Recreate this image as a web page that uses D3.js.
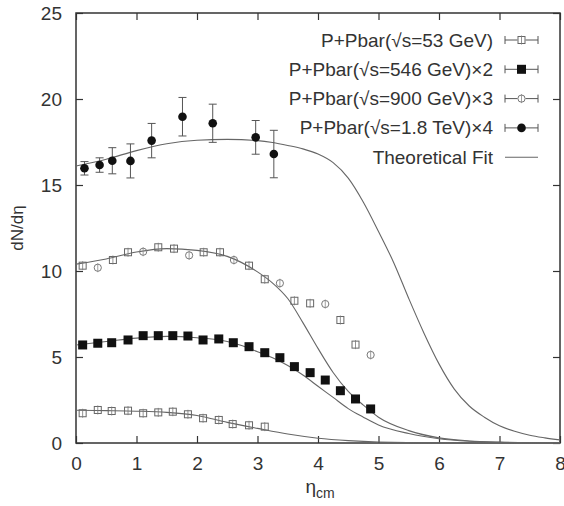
<!DOCTYPE html>
<html lang="en">
<head>
    <meta charset="utf-8">
    <title>dN/deta fit</title>
    <script src="https://d3js.org/d3.v7.min.js"></script>
    <style>
        body { margin: 0; background: #fff; }
        svg text { font-family: "Liberation Sans", Arial, sans-serif; fill: #333; }
    </style>
</head>
<body>
<div id="chart"></div>
<script>
    // data
    var xTicks = [0, 1, 2, 3, 4, 5, 6, 7, 8];
    var yTicks = [0, 5, 10, 15, 20, 25];

    var legendLabels = [
        "P+Pbar(\u221As=53 GeV)",
        "P+Pbar(\u221As=546 GeV)\u00d72",
        "P+Pbar(\u221As=900 GeV)\u00d73",
        "P+Pbar(\u221As=1.8 TeV)\u00d74",
        "Theoretical Fit"
    ];

    var eta53 = [0.11, 0.36, 0.59, 0.86, 1.11, 1.36, 1.60, 1.85, 2.10, 2.36, 2.59, 2.86, 3.12];
    var val53 = [1.73, 1.92, 1.86, 1.88, 1.73, 1.78, 1.82, 1.67, 1.44, 1.34, 1.10, 1.03, 0.95];

    var eta546 = [0.11, 0.36, 0.59, 0.86, 1.11, 1.36, 1.60, 1.85, 2.10, 2.36, 2.60, 2.86, 3.12, 3.37, 3.61, 3.87, 4.12, 4.37, 4.62, 4.87];
    var val546 = [5.70, 5.80, 5.83, 5.99, 6.24, 6.24, 6.24, 6.22, 5.99, 6.05, 5.83, 5.60, 5.25, 4.96, 4.44, 4.09, 3.66, 3.04, 2.56, 1.98];

    var eta900 = [0.11, 0.36, 0.61, 0.86, 1.11, 1.36, 1.62, 1.87, 2.11, 2.38, 2.61, 2.86, 3.12, 3.37, 3.61, 3.87, 4.12, 4.37, 4.62, 4.87];
    var val900 = [10.31, 10.19, 10.64, 11.09, 11.12, 11.38, 11.30, 10.91, 11.09, 11.09, 10.64, 10.31, 9.52, 9.29, 8.27, 8.12, 8.08, 7.15, 5.72, 5.12];

    var eta1800 = [0.14, 0.39, 0.60, 0.90, 1.25, 1.76, 2.26, 2.97, 3.27];
    var val1800 = [15.97, 16.16, 16.41, 16.40, 17.58, 18.97, 18.59, 17.77, 16.80];
    var err1800 = [0.39, 0.42, 0.76, 0.99, 1.00, 1.12, 1.11, 0.98, 1.38];

    // theoretical fit curves
    var fitEta53 = [0, 0.5, 1.0, 1.5, 2.0, 2.5, 3.0, 3.5, 4.0, 4.5, 5.0, 6.0, 8.0];
    var fitVal53 = [1.9, 1.88, 1.85, 1.78, 1.6, 1.2, 0.85, 0.52, 0.28, 0.14, 0.06, 0.01, 0];

    var fitEta546 = [0, 0.5, 1.0, 1.5, 2.0, 2.5, 2.75, 3.0, 3.25, 3.5, 3.75, 4.0, 4.25, 4.5, 4.75, 5.0, 5.5, 6.0, 6.5, 7.0, 8.0];
    var fitVal546 = [5.7, 5.9, 6.1, 6.2, 6.12, 5.9, 5.65, 5.3, 4.95, 4.5, 3.95, 3.3, 2.65, 2.0, 1.5, 1.05, 0.55, 0.25, 0.1, 0.04, 0];

    var fitEta900 = [0, 0.5, 1.0, 1.5, 2.0, 2.5, 3.0, 3.25, 3.5, 3.75, 4.0, 4.25, 4.5, 4.75, 5.0, 5.5, 6.0, 6.5, 7.0, 8.0];
    var fitVal900 = [10.4, 10.7, 11.1, 11.3, 11.2, 10.85, 9.95, 9.3, 8.4, 7.0, 5.5, 4.1, 3.0, 2.2, 1.5, 0.72, 0.3, 0.12, 0.05, 0];

    var fitEta1800 = [0, 0.5, 1.0, 1.5, 2.0, 2.5, 3.0, 3.25, 3.5, 3.75, 4.0, 4.25, 4.5, 4.75, 5.0, 5.25, 5.5, 5.75, 6.0, 6.25, 6.5, 6.75, 7.0, 7.25, 7.5, 7.75, 8.0];
    var fitVal1800 = [16.1, 16.5, 17.0, 17.4, 17.6, 17.65, 17.58, 17.47, 17.3, 17.1, 16.8, 16.3, 15.4, 14.0, 12.3, 10.5, 8.4, 6.4, 4.6, 3.15, 2.15, 1.5, 1.0, 0.68, 0.45, 0.3, 0.18];

    var W = 564, H = 506;
    var mLeft = 76, mRight = 560, mTop = 13, mBottom = 443;

    var x = d3.scaleLinear().domain([0, 8]).range([mLeft, mRight]);
    var y = d3.scaleLinear().domain([0, 25]).range([mBottom, mTop]);

    var svg = d3.select("#chart").append("svg")
        .attr("width", W)
        .attr("height", H);

    var ink = "#333";

    // axes: ticks inward on all four sides
    svg.append("g")
        .attr("transform", "translate(0," + mBottom + ")")
        .call(d3.axisBottom(x).tickValues(xTicks).tickSize(-7).tickPadding(14).tickFormat(d3.format("d")))
        .call(function(g) { g.select(".domain").remove(); });
    svg.append("g")
        .attr("transform", "translate(0," + mTop + ")")
        .call(d3.axisTop(x).tickValues(xTicks).tickSize(-7).tickFormat(""))
        .call(function(g) { g.select(".domain").remove(); });
    svg.append("g")
        .attr("transform", "translate(" + mLeft + ",0)")
        .call(d3.axisLeft(y).tickValues(yTicks).tickSize(-7).tickPadding(14).tickFormat(d3.format("d")))
        .call(function(g) { g.select(".domain").remove(); });
    svg.append("g")
        .attr("transform", "translate(" + mRight + ",0)")
        .call(d3.axisRight(y).tickValues(yTicks).tickSize(-7).tickFormat(""))
        .call(function(g) { g.select(".domain").remove(); });

    svg.selectAll(".tick line").attr("stroke", ink).attr("stroke-width", 1.2);
    svg.selectAll(".tick text").attr("fill", ink).style("font-size", "19px")
        .style("font-family", "'Liberation Sans', Arial, sans-serif");

    svg.append("rect")
        .attr("x", mLeft).attr("y", mTop)
        .attr("width", mRight - mLeft).attr("height", mBottom - mTop)
        .attr("fill", "none").attr("stroke", ink).attr("stroke-width", 1.5);

    // axis titles
    svg.append("text")
        .attr("transform", "translate(23,228) rotate(-90)")
        .attr("text-anchor", "middle")
        .style("font-size", "17px")
        .text("dN/d\u03b7");

    var xt = svg.append("text")
        .attr("x", (mLeft + mRight) / 2 + 2)
        .attr("y", 493)
        .attr("text-anchor", "middle")
        .style("font-size", "19px");
    xt.append("tspan").text("\u03b7");
    xt.append("tspan").attr("dy", 5).style("font-size", "14px").text("cm");

    // fit curves
    var line = d3.line()
        .x(function(d) { return x(d[0]); })
        .y(function(d) { return y(d[1]); })
        .curve(d3.curveMonotoneX);

    var fits = [
        d3.zip(fitEta53, fitVal53),
        d3.zip(fitEta546, fitVal546),
        d3.zip(fitEta900, fitVal900),
        d3.zip(fitEta1800, fitVal1800)
    ];
    svg.append("g").selectAll("path")
        .data(fits)
        .enter()
        .append("path")
        .attr("d", line)
        .attr("fill", "none")
        .attr("stroke", "#666")
        .attr("stroke-width", 1.1);

    // markers
    function openSquare(g, cx, cy) {
        g.append("rect").attr("x", cx - 3.5).attr("y", cy - 3.5).attr("width", 7).attr("height", 7)
            .attr("fill", "none").attr("stroke", "#666").attr("stroke-width", 1);
        g.append("line").attr("x1", cx).attr("x2", cx).attr("y1", cy - 4.5).attr("y2", cy + 4.5)
            .attr("stroke", "#777").attr("stroke-width", 0.8);
    }
    function openCircle(g, cx, cy) {
        g.append("circle").attr("cx", cx).attr("cy", cy).attr("r", 3.6)
            .attr("fill", "none").attr("stroke", "#777").attr("stroke-width", 1);
        g.append("line").attr("x1", cx).attr("x2", cx).attr("y1", cy - 4.5).attr("y2", cy + 4.5)
            .attr("stroke", "#888").attr("stroke-width", 0.8);
    }
    function filledSquare(g, cx, cy) {
        g.append("rect").attr("x", cx - 4.5).attr("y", cy - 4.5).attr("width", 9).attr("height", 9)
            .attr("fill", "#111");
    }
    function filledCircle(g, cx, cy) {
        g.append("circle").attr("cx", cx).attr("cy", cy).attr("r", 4.3).attr("fill", "#111");
    }

    var pts = svg.append("g");
    eta53.forEach(function(e, i) { openSquare(pts, x(e), y(val53[i])); });
    eta546.forEach(function(e, i) { filledSquare(pts, x(e), y(val546[i])); });
    eta900.forEach(function(e, i) {
        if (i % 3 === 1) openCircle(pts, x(e), y(val900[i]));
        else openSquare(pts, x(e), y(val900[i]));
    });

    // 1.8 TeV with error bars
    eta1800.forEach(function(e, i) {
        var cx = x(e), y0 = y(val1800[i] - err1800[i]), y1 = y(val1800[i] + err1800[i]);
        pts.append("line").attr("x1", cx).attr("x2", cx).attr("y1", y0).attr("y2", y1)
            .attr("stroke", "#555").attr("stroke-width", 1);
        [y0, y1].forEach(function(yy) {
            pts.append("line").attr("x1", cx - 4).attr("x2", cx + 4).attr("y1", yy).attr("y2", yy)
                .attr("stroke", "#555").attr("stroke-width", 1);
        });
        filledCircle(pts, cx, y(val1800[i]));
    });

    // legend
    var markers = [openSquare, filledSquare, openCircle, filledCircle, null];
    var leg = svg.append("g");
    legendLabels.forEach(function(label, i) {
        var ly = 40 + i * 29.3;
        leg.append("text")
            .attr("x", 493).attr("y", ly + 6.5)
            .attr("text-anchor", "end")
            .style("font-size", "19px")
            .text(label);
        var x0 = 505, x1 = 538, xm = (x0 + x1) / 2;
        if (markers[i]) {
            leg.append("line").attr("x1", x0).attr("x2", x1).attr("y1", ly).attr("y2", ly)
                .attr("stroke", "#555").attr("stroke-width", 1);
            [x0, x1].forEach(function(xx) {
                leg.append("line").attr("x1", xx).attr("x2", xx).attr("y1", ly - 4).attr("y2", ly + 4)
                    .attr("stroke", "#555").attr("stroke-width", 1);
            });
            var mg = leg.append("g");
            if (i === 0 || i === 2) {
                mg.append("rect").attr("x", xm - 4).attr("y", ly - 4).attr("width", 8).attr("height", 8).attr("fill", "#fff");
            }
            markers[i](mg, xm, ly);
        } else {
            leg.append("line").attr("x1", x0).attr("x2", x1).attr("y1", ly).attr("y2", ly)
                .attr("stroke", "#666").attr("stroke-width", 1.1);
        }
    });
</script>
</body>
</html>
